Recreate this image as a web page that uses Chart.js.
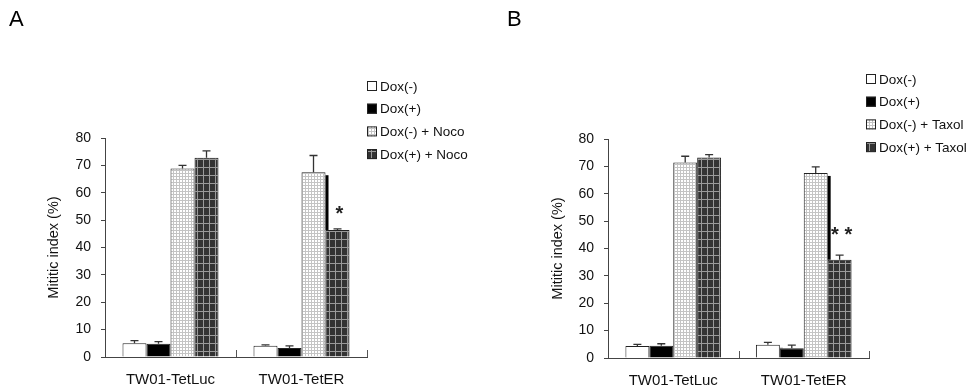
<!DOCTYPE html>
<html>
<head>
<meta charset="utf-8">
<script src="https://cdn.jsdelivr.net/npm/chart.js@4.4.0/dist/chart.umd.min.js"></script>
<style>
  body { margin: 0; background: #fff; width: 972px; height: 387px; overflow: hidden; }
  .panel { position: absolute; top: 0; width: 486px; height: 387px; }
  .tag { position: absolute; top: 6px; font: 22px "Liberation Sans", Arial, sans-serif; color: #000; }
</style>
</head>
<body>
<div class="panel" style="left:0"><canvas id="chartA" width="486" height="387"></canvas></div>
<div class="panel" style="left:486px"><canvas id="chartB" width="486" height="387"></canvas></div>
<div class="tag" style="left:9px">A</div>
<div class="tag" style="left:507px">B</div>
<script>
// Categories and series names
const categories = ["TW01-TetLuc", "TW01-TetER"];
const seriesA = ["Dox(-)", "Dox(+)", "Dox(-) + Noco", "Dox(+) + Noco"];
const seriesB = ["Dox(-)", "Dox(+)", "Dox(-) + Taxol", "Dox(+) + Taxol"];
const yTicks = [0, 10, 20, 30, 40, 50, 60, 70, 80];

// Panel A values (mitotic index %) and upper error
const doxMinusA = [5.0, 4.1];
const doxPlusA = [4.8, 3.3];
const doxMinusNocoA = [68.9, 67.5];
const doxPlusNocoA = [72.8, 46.4];
const errDoxMinusA = [1.0, 0.3];
const errDoxPlusA = [0.8, 0.8];
const errDoxMinusNocoA = [1.1, 6.1];
const errDoxPlusNocoA = [2.5, 0.4];
const sigA = ["", "*"];

// Panel B values
const doxMinusB = [4.4, 4.8];
const doxPlusB = [4.5, 3.6];
const doxMinusTaxolB = [71.4, 67.6];
const doxPlusTaxolB = [73.2, 35.9];
const errDoxMinusB = [0.6, 0.9];
const errDoxPlusB = [0.7, 1.1];
const errDoxMinusTaxolB = [2.3, 2.2];
const errDoxPlusTaxolB = [1.1, 1.7];
const sigB = ["", "**"];

const FONT = '"Liberation Sans", Arial, sans-serif';

// Fill patterns for the bars
function gridPattern(w, h, bg, line) {
    const c = document.createElement("canvas");
    c.width = w; c.height = h;
    const g = c.getContext("2d");
    g.fillStyle = bg; g.fillRect(0, 0, w, h);
    g.fillStyle = line;
    g.fillRect(w - 1, 0, 1, h);
    g.fillRect(0, h - 1, w, 1);
    return g.createPattern(c, "repeat");
}
const fills = [
    "#ffffff",
    "#000000",
    gridPattern(3, 3, "#ffffff", "#c4c4c4"),
    gridPattern(6, 8, "#333333", "#9a9a9a")
];

// Error bars, shadow strip, significance marks, inward x ticks, legend
const extrasPlugin = {
    id: "extras",
    afterDatasetsDraw(chart, args, opts) {
        const ctx = chart.ctx;
        const x = chart.scales.x, y = chart.scales.y;
        const n = chart.data.datasets.length;
        ctx.save();
        // shadow strip on the right of a bar when the next bar is lower
        for (let d = 0; d < n - 1; d++) {
            const metaA = chart.getDatasetMeta(d), metaB = chart.getDatasetMeta(d + 1);
            metaA.data.forEach((bar, i) => {
                const nb = metaB.data[i];
                if (nb.y > bar.y + 3) {
                    ctx.fillStyle = "#000";
                    ctx.fillRect(bar.x + bar.width / 2, bar.y + 3, 3, nb.y - bar.y - 3);
                }
            });
        }
        // error bars
        ctx.strokeStyle = "#333";
        ctx.lineWidth = 1.3;
        chart.data.datasets.forEach((ds, d) => {
            const meta = chart.getDatasetMeta(d);
            meta.data.forEach((bar, i) => {
                const top = y.getPixelForValue(ds.data[i] + ds.errors[i]);
                ctx.beginPath();
                ctx.moveTo(bar.x, bar.y);
                ctx.lineTo(bar.x, top);
                ctx.moveTo(bar.x - 4, top);
                ctx.lineTo(bar.x + 4, top);
                ctx.stroke();
                if (ds.sig && ds.sig[i]) {
                    ctx.fillStyle = "#222";
                    ctx.font = "bold 20px " + FONT;
                    ctx.textAlign = "center";
                    ctx.textBaseline = "middle";
                    ctx.fillText(ds.sig[i].split("").join(" "), bar.x + 2, top - opts.sigGap);
                }
            });
        });
        // small inward ticks between categories on the x axis
        ctx.strokeStyle = "#555";
        ctx.lineWidth = 1;
        const half = (x.getPixelForValue(1) - x.getPixelForValue(0)) / 2;
        for (let i = 0; i < categories.length; i++) {
            const px = Math.round(x.getPixelForValue(i) + half) + 0.5;
            ctx.beginPath();
            ctx.moveTo(px, y.bottom);
            ctx.lineTo(px, y.bottom - 7);
            ctx.stroke();
        }
        // legend
        ctx.font = "13.5px " + FONT;
        ctx.textAlign = "left";
        ctx.textBaseline = "middle";
        chart.data.datasets.forEach((ds, d) => {
            const ly = opts.legendY + d * opts.legendStep;
            ctx.fillStyle = ds.backgroundColor;
            ctx.fillRect(opts.legendX, ly - 5, 10, 10);
            ctx.strokeStyle = "#222";
            ctx.strokeRect(opts.legendX + 0.5, ly - 4.5, 9, 9);
            ctx.fillStyle = "#111";
            ctx.fillText(ds.label, opts.legendX + 13, ly + 1);
        });
        ctx.restore();
    }
};

function makeChart(id, labels, values, errors, sig, layout) {
    return new Chart(document.getElementById(id), {
        type: "bar",
        plugins: [extrasPlugin],
        data: {
            labels: categories,
            datasets: values.map((v, d) => ({
                label: labels[d],
                data: v,
                errors: errors[d],
                sig: d === 3 ? sig : null,
                backgroundColor: fills[d],
                borderColor: "#222",
                borderWidth: 1,
                categoryPercentage: 0.733,
                barPercentage: 1.0
            }))
        },
        options: {
            responsive: false,
            animation: false,
            layout: { padding: { left: layout.left, right: layout.right, top: layout.top, bottom: 0 } },
            plugins: {
                legend: { display: false },
                tooltip: { enabled: false },
                extras: layout.extras
            },
            scales: {
                x: {
                    grid: { display: false, drawTicks: false },
                    border: { display: true, color: "#444", width: 1 },
                    ticks: { color: "#111", font: { family: FONT, size: 15 }, padding: 14 },
                    afterFit: (s) => { s.height = layout.bottom; }
                },
                y: {
                    min: 0,
                    max: 80,
                    afterBuildTicks: (s) => { s.ticks = yTicks.map(v => ({ value: v })); },
                    grid: { drawOnChartArea: false, drawTicks: true, tickLength: 4, color: "#444" },
                    border: { display: true, color: "#444", width: 1 },
                    ticks: { color: "#111", font: { family: FONT, size: 14 }, padding: 10 },
                    title: { display: true, text: "Mititic index (%)", color: "#111", font: { family: FONT, size: 14.5 } },
                    afterFit: (s) => { s.width = layout.yWidth; }
                }
            }
        }
    });
}

makeChart("chartA", seriesA,
    [doxMinusA, doxPlusA, doxMinusNocoA, doxPlusNocoA],
    [errDoxMinusA, errDoxPlusA, errDoxMinusNocoA, errDoxPlusNocoA],
    sigA,
    { left: 41, yWidth: 64, right: 119, top: 138, bottom: 30,
      extras: { legendX: 367, legendY: 86, legendStep: 22.7, sigGap: 14 } });

makeChart("chartB", seriesB,
    [doxMinusB, doxPlusB, doxMinusTaxolB, doxPlusTaxolB],
    [errDoxMinusB, errDoxPlusB, errDoxMinusTaxolB, errDoxPlusTaxolB],
    sigB,
    { left: 59, yWidth: 63, right: 103, top: 139, bottom: 29,
      extras: { legendX: 380, legendY: 79, legendStep: 22.7, sigGap: 20 } });
</script>
</body>
</html>
